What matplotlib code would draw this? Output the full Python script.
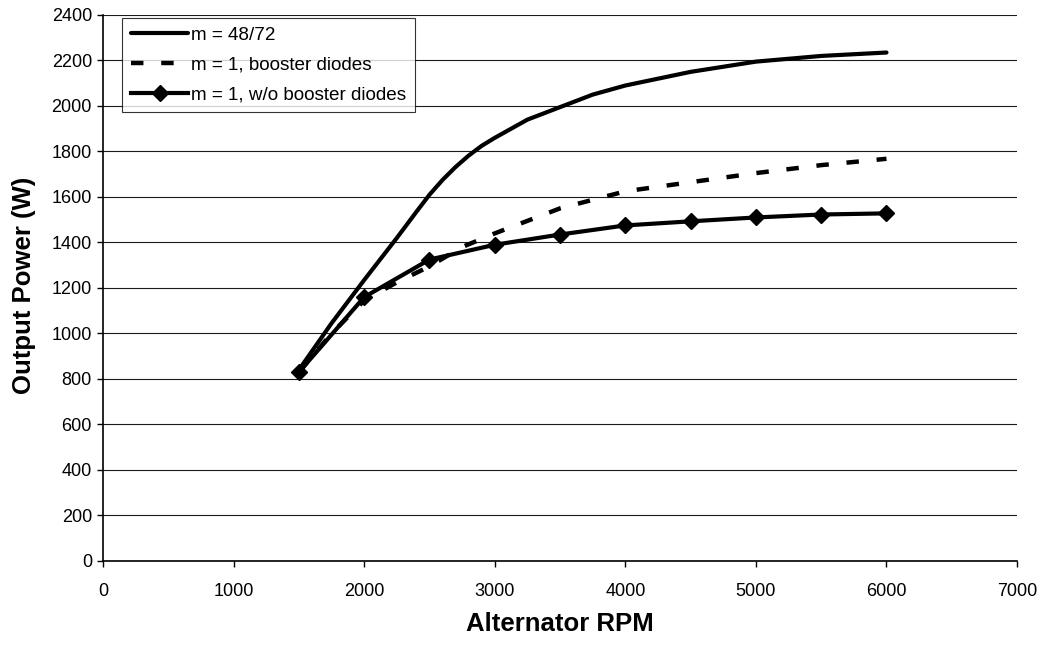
import matplotlib
matplotlib.use("Agg")
import matplotlib.pyplot as plt

plt.rcParams['font.family'] = ['Liberation Sans', 'DejaVu Sans']

# m = 48/72
rpm_a = [1500, 1750, 2000, 2250, 2400, 2500, 2600, 2700, 2800, 2900, 3000, 3250, 3500, 3750,
         4000, 4500, 5000, 5500, 6000]
pwr_a = [840, 1045, 1235, 1420, 1535, 1610, 1675, 1732, 1782, 1825, 1860, 1940, 1995, 2050,
         2090, 2150, 2195, 2220, 2235]

# m = 1, booster diodes
rpm_b = [1500, 1750, 2000, 2250, 2500, 2750, 3000, 3500, 4000, 4500, 5000, 5500, 6000]
pwr_b = [830, 1000, 1145, 1225, 1295, 1380, 1440, 1550, 1625, 1665, 1705, 1740, 1768]

# m = 1, w/o booster diodes
rpm_c = [1500, 2000, 2500, 3000, 3500, 4000, 4500, 5000, 5500, 6000]
pwr_c = [830, 1160, 1325, 1390, 1435, 1475, 1493, 1510, 1523, 1528]

x_ticks = [0, 1000, 2000, 3000, 4000, 5000, 6000, 7000]
y_ticks = list(range(0, 2401, 200))

fig = plt.figure(figsize=(10.44, 6.46), dpi=100)
ax = fig.add_axes([0.0987, 0.1316, 0.8755, 0.8452])

ax.plot(rpm_a, pwr_a, color='black', lw=3, label='m = 48/72',
        solid_capstyle='round', solid_joinstyle='round')
ax.plot(rpm_b, pwr_b, color='black', lw=3.2, ls=(0, (2.8, 4.0)), label='m = 1, booster diodes')
ax.plot(rpm_c, pwr_c, color='black', lw=3, marker='D', markersize=8,
        solid_joinstyle='round', label='m = 1, w/o booster diodes')

ax.set_xlim(0, 7000)
ax.set_ylim(0, 2400)
ax.set_xticks(x_ticks)
ax.set_yticks(y_ticks)
ax.tick_params(axis='both', labelsize=13, direction='out', length=4, width=1, colors='black')
ax.tick_params(axis='x', pad=12)
ax.tick_params(axis='y', pad=4)

ax.yaxis.grid(True, color='#1a1a1a', lw=0.8)
ax.set_axisbelow(True)
for side in ('top', 'right'):
    ax.spines[side].set_visible(False)
for side in ('left', 'bottom'):
    ax.spines[side].set_linewidth(1.2)

ax.set_xlabel('Alternator RPM', fontsize=18.5, fontweight='bold')
ax.set_ylabel('Output Power (W)', fontsize=18.5, fontweight='bold')
ax.xaxis.set_label_coords(0.5, -0.093)
ax.yaxis.set_label_coords(-0.073, 0.505)

leg = ax.legend(loc='upper left', bbox_to_anchor=(0.021, 0.995), fontsize=13.6, frameon=True,
                fancybox=False, edgecolor='black', handlelength=3.0, handletextpad=0.15,
                borderpad=0.48, labelspacing=0.66, borderaxespad=0.0)
leg.get_frame().set_linewidth(0.8)

fig.savefig('out.png', dpi=100, facecolor='white')
